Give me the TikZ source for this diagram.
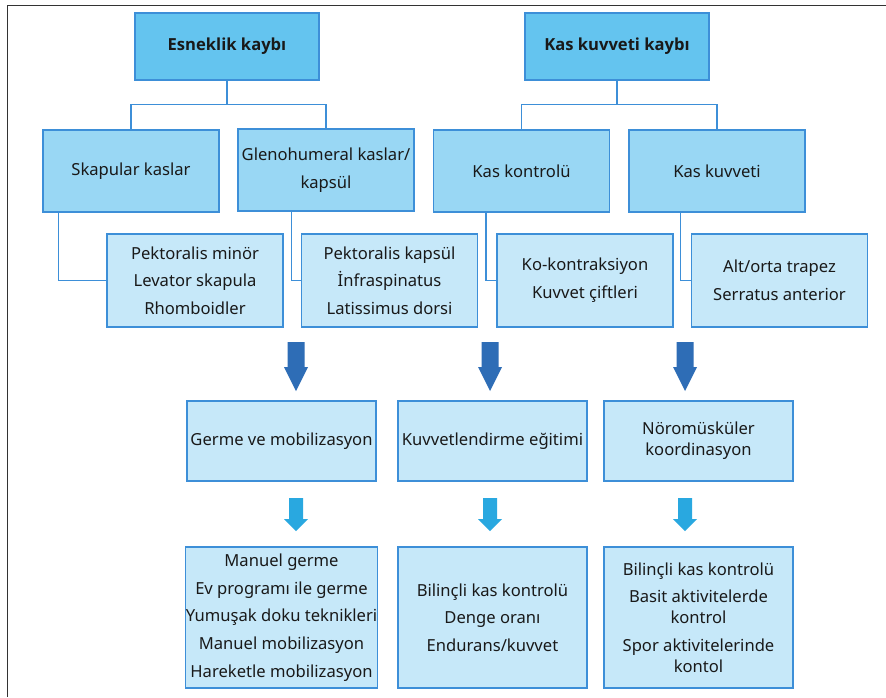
\documentclass[tikz,border=0pt]{standalone}
\usepackage{fontspec}
\setmainfont{Noto Sans}
\newfontfamily\hdfont{Open Sans}
\begin{document}
\begin{tikzpicture}[x=1pt,y=-1pt,
  every node/.style={font=\fontsize{16.6}{21}\selectfont, text=black!90, align=center, inner sep=0pt},
  box/.style={draw=linec, line width=1.1pt, rectangle},
  topbox/.style={box, fill=topc, minimum width=184pt, minimum height=67pt, font=\fontsize{16.6}{21}\selectfont\hdfont\bfseries},
  midbox/.style={box, fill=midc, minimum width=176pt, minimum height=82pt, font=\fontsize{16.6}{28}\selectfont},
  listbox/.style={box, fill=lowc, minimum width=176pt, minimum height=93pt, font=\fontsize{16.6}{27.7}\selectfont},
  trbox/.style={box, fill=lowc, minimum width=189pt, minimum height=80pt},
  resbox/.style={box, fill=lowc, minimum width=189pt, minimum height=141pt, font=\fontsize{16.6}{27.7}\selectfont},
  conn/.style={draw=linec, line width=1.1pt},
  darr/.pic={\fill[darkarr] (-8.5,0) -- (8.5,0) -- (8.5,25) -- (12,25) -- (0,49) -- (-12,25) -- (-8.5,25) -- cycle;},
  larr/.pic={\fill[lightarr] (-7,0) -- (7,0) -- (7,21) -- (12,21) -- (0,33) -- (-12,21) -- (-7,21) -- cycle;}
]
\definecolor{topc}{HTML}{64C4EF}
\definecolor{midc}{HTML}{99D7F4}
\definecolor{lowc}{HTML}{C6E8F9}
\definecolor{linec}{HTML}{3D8FD8}
\definecolor{darkarr}{HTML}{2E6DB6}
\definecolor{lightarr}{HTML}{29A8E0}
\useasboundingbox (0,0) rectangle (886,697);
\fill[white] (0,0) rectangle (886,697);
\draw[black!80, line width=1pt] (7,697) -- (7,5) -- (886,5);

\node[topbox] (t1) at (227,46.5) {Esneklik kaybı};
\node[topbox] (t2) at (617,46.5) {Kas kuvveti kaybı};

\node[midbox] (m1) at (131,171) {Skapular kaslar};
\node[midbox] (m2) at (326,170) {Glenohumeral kaslar/\\kapsül};
\node[midbox] (m3) at (521.5,171) {Kas kontrolü};
\node[midbox] (m4) at (717,171) {Kas kuvveti};

\node[listbox] (s1) at (195,280.5) {Pektoralis minör\\Levator skapula\\Rhomboidler};
\node[listbox] (s2) at (389.5,280.5) {Pektoralis kapsül\\İnfraspinatus\\Latissimus dorsi};
\node[listbox] (s3) at (585,280.5) {Ko-kontraksiyon\\Kuvvet çiftleri};
\node[listbox] (s4) at (779.5,280.5) {Alt/orta trapez\\Serratus anterior};

\node[trbox] (r1) at (281.5,441) {Germe ve mobilizasyon};
\node[trbox] (r2) at (492.5,441) {Kuvvetlendirme eğitimi};
\node[trbox] (r3) at (698.5,441) {Nöromüsküler\\koordinasyon};

\node[resbox] (e1) at (281.5,617.5) {Manuel germe\\Ev programı ile germe\\Yumuşak doku teknikleri\\Manuel mobilizasyon\\Hareketle mobilizasyon};
\node[resbox] (e2) at (492.5,617.5) {Bilinçli kas kontrolü\\Denge oranı\\Endurans/kuvvet};
\node[resbox] (e3) at (698.5,617.5) {Bilinçli kas kontrolü\\Basit aktivitelerde\\[-6.7pt]kontrol\\Spor aktivitelerinde\\[-6.7pt]kontol};

% connectors top -> mid
\draw[conn] (t1.south) -- ++(0,24) -| (m1.north);
\draw[conn] (t1.south) -- ++(0,24) -| (m2.north);
\draw[conn] (t2.south) -- ++(0,24) -| (m3.north);
\draw[conn] (t2.south) -- ++(0,24) -| (m4.north);

% connectors mid -> sub
\draw[conn] ([xshift=16pt]m1.south west) |- (s1.west);
\draw[conn] ([xshift=54pt]m2.south west) |- (s2.west);
\draw[conn] ([xshift=53pt]m3.south west) |- (s3.west);
\draw[conn] ([xshift=52pt]m4.south west) |- (s4.west);

% block arrows
\pic at (296,342) {darr};
\pic at (490,342) {darr};
\pic at (685,342) {darr};
\pic at (296,498) {larr};
\pic at (490,498) {larr};
\pic at (685,498) {larr};
\end{tikzpicture}
\end{document}
